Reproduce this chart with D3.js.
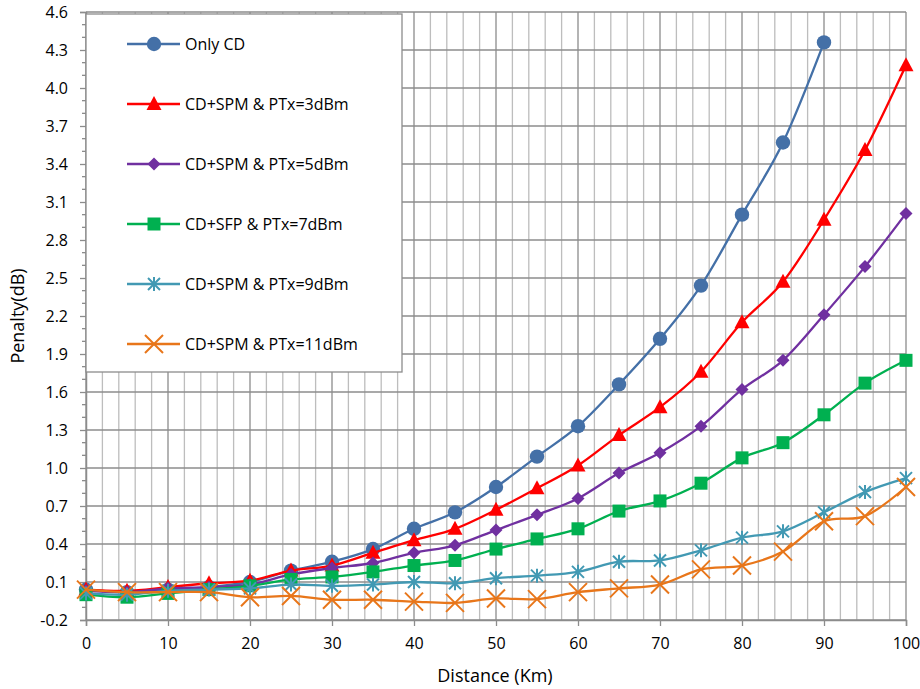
<!DOCTYPE html>
<html>
<head>
<meta charset="utf-8">
<script src="https://cdn.jsdelivr.net/npm/d3@7"></script>
<style>
  body { margin: 0; background: #fff; }
  svg text { font-family: "Open Sans", Lato, "Liberation Sans", sans-serif; fill: #000; }
</style>
</head>
<body>
<div id="mainDiv"></div>
<script>
'use strict';

var distance = [0, 5, 10, 15, 20, 25, 30, 35, 40, 45, 50, 55, 60, 65, 70, 75, 80, 85, 90, 95, 100];

var onlyCD  = [0.04, 0.02, 0.04, 0.06, 0.10, 0.19, 0.26, 0.36, 0.52, 0.65, 0.85, 1.09, 1.33, 1.66, 2.02, 2.44, 3.00, 3.57, 4.36];
var ptx3    = [0.04, 0.03, 0.06, 0.09, 0.11, 0.19, 0.23, 0.33, 0.43, 0.52, 0.67, 0.84, 1.02, 1.26, 1.48, 1.76, 2.15, 2.47, 2.96, 3.51, 4.18];
var ptx5    = [0.03, 0.02, 0.05, 0.06, 0.08, 0.16, 0.21, 0.25, 0.33, 0.39, 0.51, 0.63, 0.76, 0.96, 1.12, 1.33, 1.62, 1.85, 2.21, 2.59, 3.01];
var ptx7    = [0.00, -0.02, 0.01, 0.04, 0.07, 0.12, 0.14, 0.18, 0.23, 0.27, 0.36, 0.44, 0.52, 0.66, 0.74, 0.88, 1.08, 1.20, 1.42, 1.67, 1.85];
var ptx9    = [0.01, 0.00, 0.03, 0.04, 0.05, 0.08, 0.07, 0.08, 0.10, 0.09, 0.13, 0.15, 0.18, 0.26, 0.27, 0.35, 0.45, 0.50, 0.65, 0.81, 0.92];
var ptx11   = [0.04, 0.02, 0.02, 0.02, -0.02, -0.01, -0.04, -0.04, -0.055, -0.065, -0.03, -0.035, 0.02, 0.05, 0.08, 0.20, 0.23, 0.34, 0.58, 0.62, 0.85];

var seriesNames = ['Only CD', 'CD+SPM & PTx=3dBm', 'CD+SPM & PTx=5dBm', 'CD+SFP & PTx=7dBm', 'CD+SPM & PTx=9dBm', 'CD+SPM & PTx=11dBm'];
var seriesValues = [onlyCD, ptx3, ptx5, ptx7, ptx9, ptx11];
var seriesColors = ['#4470A7', '#FF0000', '#7030A0', '#00B050', '#4299B3', '#E8761A'];
var seriesMarkers = ['circle', 'triangle', 'diamond', 'square', 'star', 'cross'];

var yTicks = [-0.2, 0.1, 0.4, 0.7, 1.0, 1.3, 1.6, 1.9, 2.2, 2.5, 2.8, 3.1, 3.4, 3.7, 4.0, 4.3, 4.6];
var xTicks = [0, 10, 20, 30, 40, 50, 60, 70, 80, 90, 100];

var myApp = {};

myApp.left = 86;
myApp.right = 906;
myApp.top = 12;
myApp.bottom = 620;

myApp.drawMarker = function(g, type, color)
{
    if (type === 'circle') {
        g.append('circle').attr('r', 7.2).attr('fill', color);
    } else if (type === 'triangle') {
        g.append('path').attr('d', 'M0,-8 L7.5,6 L-7.5,6 Z').attr('fill', color);
    } else if (type === 'diamond') {
        g.append('path').attr('d', 'M0,-6.5 L6.5,0 L0,6.5 L-6.5,0 Z').attr('fill', color);
    } else if (type === 'square') {
        g.append('rect').attr('x', -6.5).attr('y', -6.5).attr('width', 13).attr('height', 13).attr('fill', color);
    } else if (type === 'star') {
        g.append('path')
            .attr('d', 'M-6,-6 L6,6 M-6,6 L6,-6 M0,-7 L0,7')
            .attr('stroke', color).attr('stroke-width', 2).attr('fill', 'none');
    } else if (type === 'cross') {
        g.append('path')
            .attr('d', 'M-9,-9 L9,9 M-9,9 L9,-9')
            .attr('stroke', color).attr('stroke-width', 2).attr('fill', 'none');
    }
}

myApp.run = function()
{
    var svg = d3.select('#mainDiv').append('svg')
        .attr('width', 920)
        .attr('height', 689);

    var x = d3.scaleLinear().domain([0, 100]).range([myApp.left, myApp.right]);
    var y = d3.scaleLinear().domain([-0.2, 4.6]).range([myApp.bottom, myApp.top]);

    // minor vertical grid every 2 km
    var minorX = d3.range(0, 101, 2).filter(function(d){ return d % 10 !== 0; });
    svg.append('g').selectAll('line')
        .data(minorX).enter().append('line')
        .attr('x1', function(d){ return x(d); }).attr('x2', function(d){ return x(d); })
        .attr('y1', myApp.top).attr('y2', myApp.bottom)
        .attr('stroke', '#bdbdbd').attr('stroke-width', 1.3);

    // major grid
    svg.append('g').selectAll('line')
        .data(xTicks).enter().append('line')
        .attr('x1', function(d){ return x(d); }).attr('x2', function(d){ return x(d); })
        .attr('y1', myApp.top).attr('y2', myApp.bottom)
        .attr('stroke', '#8c8c8c').attr('stroke-width', 1.3);
    svg.append('g').selectAll('line')
        .data(yTicks).enter().append('line')
        .attr('x1', myApp.left).attr('x2', myApp.right)
        .attr('y1', function(d){ return y(d); }).attr('y2', function(d){ return y(d); })
        .attr('stroke', '#8c8c8c').attr('stroke-width', 1.3);

    // axes
    var fmt = d3.format('.1f');
    var yAxis = d3.axisLeft(y).tickValues(yTicks).tickSize(6).tickPadding(12)
        .tickFormat(function(d){ return fmt(d).replace('\u2212', '-'); });
    var gy = svg.append('g').attr('transform', 'translate(' + myApp.left + ',0)').call(yAxis);
    var yMinor = d3.range(-2, 47).map(function(d){ return d / 10; })
        .filter(function(d){ return yTicks.indexOf(Math.round(d * 10) / 10) < 0; });
    svg.append('g').selectAll('line')
        .data(yMinor).enter().append('line')
        .attr('x1', myApp.left - 4).attr('x2', myApp.left)
        .attr('y1', function(d){ return y(d); }).attr('y2', function(d){ return y(d); })
        .attr('stroke', '#8c8c8c').attr('stroke-width', 1.3);

    var xAxis = d3.axisBottom(x).tickValues(xTicks).tickSize(6).tickPadding(12);
    var gx = svg.append('g').attr('transform', 'translate(0,' + myApp.bottom + ')').call(xAxis);

    [gx, gy].forEach(function(g) {
        g.selectAll('path.domain').attr('stroke', '#8c8c8c').attr('stroke-width', 1.5);
        g.selectAll('.tick line').attr('stroke', '#8c8c8c').attr('stroke-width', 1.3);
        g.selectAll('text').style('font-size', '16px').style('font-family', '"Open Sans", Lato, sans-serif');
    });

    // legend box
    var legend = svg.append('g');
    legend.append('rect')
        .attr('x', 86).attr('y', 14).attr('width', 316).attr('height', 358)
        .attr('fill', '#fff').attr('stroke', '#8c8c8c').attr('stroke-width', 1.3);

    // series
    var line = d3.line()
        .x(function(d, i){ return x(distance[i]); })
        .y(function(d){ return y(d); })
        .curve(d3.curveCardinal.tension(0));

    seriesValues.forEach(function(vals, s) {
        var g = svg.append('g');
        g.append('path').attr('d', line(vals))
            .attr('fill', 'none').attr('stroke', seriesColors[s]).attr('stroke-width', 2.3);
        vals.forEach(function(v, i) {
            var m = g.append('g').attr('transform', 'translate(' + x(distance[i]) + ',' + y(v) + ')');
            myApp.drawMarker(m, seriesMarkers[s], seriesColors[s]);
        });
    });

    // legend entries (drawn above the box)
    seriesNames.forEach(function(name, s) {
        var ly = 44 + s * 60;
        var g = legend.append('g');
        g.append('line').attr('x1', 127).attr('x2', 180).attr('y1', ly).attr('y2', ly)
            .attr('stroke', seriesColors[s]).attr('stroke-width', 2.3);
        var m = g.append('g').attr('transform', 'translate(154,' + ly + ')');
        myApp.drawMarker(m, seriesMarkers[s], seriesColors[s]);
        g.append('text').attr('x', 185).attr('y', ly).attr('dy', '0.35em')
            .style('font-size', '16px').text(name);
    });

    // axis titles
    svg.append('text')
        .attr('transform', 'translate(24,316) rotate(-90)')
        .attr('text-anchor', 'middle')
        .style('font-size', '18px')
        .text('Penalty(dB)');
    svg.append('text')
        .attr('x', 495).attr('y', 682)
        .attr('text-anchor', 'middle')
        .style('font-size', '18px')
        .text('Distance (Km)');
}

window.myApp = myApp;
myApp.run();
</script>
</body>
</html>
